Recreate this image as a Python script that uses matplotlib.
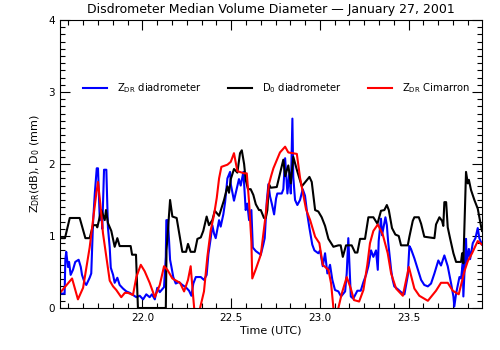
import matplotlib.pyplot as plt
from matplotlib.ticker import MultipleLocator, FormatStrFormatter

# time in hours UTC, values in dB / mm
t_zdr_dis = [21.540, 21.562, 21.566, 21.571, 21.581, 21.587, 21.596, 21.609, 21.622, 21.641,
             21.653, 21.660, 21.675, 21.684, 21.703, 21.712, 21.722, 21.732, 21.743, 21.750,
             21.760, 21.769, 21.774, 21.784, 21.797, 21.802, 21.806, 21.816, 21.822, 21.835,
             21.844, 21.859, 21.872, 21.891, 21.910, 21.929, 21.947, 21.966, 21.985, 22.004,
             22.022, 22.041, 22.054, 22.070, 22.084, 22.098, 22.122, 22.132, 22.135, 22.144,
             22.156, 22.163, 22.174, 22.188, 22.206, 22.225, 22.244, 22.263, 22.276, 22.287,
             22.301, 22.329, 22.347, 22.362, 22.372, 22.385, 22.394, 22.404, 22.413, 22.432,
             22.441, 22.456, 22.466, 22.479, 22.494, 22.498, 22.516, 22.532, 22.544, 22.554,
             22.569, 22.582, 22.591, 22.601, 22.614, 22.622, 22.639, 22.667, 22.681, 22.689,
             22.701, 22.710, 22.719, 22.729, 22.742, 22.753, 22.760, 22.785, 22.794, 22.804,
             22.817, 22.828, 22.836, 22.845, 22.850, 22.860, 22.873, 22.888, 22.903, 22.916,
             22.929, 22.941, 22.957, 22.969, 22.991, 23.001, 23.016, 23.029, 23.042, 23.057,
             23.070, 23.085, 23.104, 23.119, 23.142, 23.151, 23.160, 23.166, 23.174, 23.188,
             23.211, 23.230, 23.245, 23.260, 23.273, 23.288, 23.301, 23.316, 23.326, 23.331,
             23.344, 23.350, 23.369, 23.377, 23.384, 23.391, 23.401, 23.410, 23.419, 23.439,
             23.457, 23.476, 23.495, 23.504, 23.513, 23.532, 23.551, 23.570, 23.588, 23.608,
             23.626, 23.645, 23.667, 23.682, 23.701, 23.720, 23.739, 23.752, 23.757, 23.767,
             23.786, 23.795, 23.805, 23.808, 23.823, 23.827, 23.839, 23.846, 23.861, 23.876,
             23.889, 23.898, 23.913]
zdr_dis = [0.20, 0.20, 0.67, 0.78, 0.57, 0.64, 0.46, 0.53, 0.64, 0.67,
           0.57, 0.46, 0.35, 0.32, 0.42, 0.48, 1.18, 1.59, 1.94, 1.94,
           1.22, 1.36, 1.10, 1.92, 1.92, 1.50, 1.12, 0.84, 0.56, 0.46,
           0.35, 0.42, 0.32, 0.27, 0.23, 0.21, 0.18, 0.15, 0.17, 0.12,
           0.19, 0.15, 0.19, 0.12, 0.28, 0.22, 0.29, 0.71, 1.22, 1.22,
           0.67, 0.58, 0.43, 0.34, 0.36, 0.32, 0.29, 0.24, 0.17, 0.34,
           0.43, 0.43, 0.39, 0.46, 0.75, 0.97, 1.15, 1.03, 0.97, 1.22,
           1.13, 1.30, 1.47, 1.80, 1.89, 1.72, 1.49, 1.66, 1.79, 1.70,
           1.89, 1.36, 1.45, 1.22, 1.36, 0.84, 0.79, 0.74, 0.88, 0.97,
           1.49, 1.72, 1.55, 1.45, 1.30, 1.52, 1.59, 1.59, 1.65, 2.08,
           1.59, 1.88, 1.59, 2.63, 1.82, 1.50, 1.43, 1.50, 1.65, 1.56,
           1.30, 1.11, 0.88, 0.80, 0.76, 0.80, 0.58, 0.76, 0.48, 0.60,
           0.39, 0.25, 0.23, 0.16, 0.23, 0.48, 0.97, 0.62, 0.16, 0.13,
           0.24, 0.24, 0.36, 0.46, 0.58, 0.80, 0.71, 0.80, 0.53, 0.93,
           1.24, 1.01, 1.26, 1.15, 0.93, 0.77, 0.53, 0.39, 0.30, 0.26,
           0.22, 0.19, 0.45, 0.86, 0.82, 0.69, 0.54, 0.39, 0.32, 0.30,
           0.34, 0.48, 0.66, 0.59, 0.73, 0.58, 0.34, 0.16, 0.02, 0.20,
           0.43, 0.41, 0.63, 0.16, 0.96, 0.64, 0.82, 0.68, 0.90, 0.97,
           1.11, 0.97, 0.88]

t_d0 = [21.540, 21.564, 21.591, 21.647, 21.679, 21.703, 21.722, 21.741, 21.746, 21.769,
        21.788, 21.795, 21.806, 21.825, 21.844, 21.859, 21.872, 21.934, 21.942, 21.964,
        21.975, 22.132, 22.136, 22.156, 22.169, 22.193, 22.225, 22.246, 22.257, 22.272,
        22.295, 22.310, 22.329, 22.343, 22.362, 22.375, 22.394, 22.408, 22.432, 22.460,
        22.479, 22.488, 22.498, 22.516, 22.535, 22.550, 22.560, 22.573, 22.582, 22.595,
        22.610, 22.625, 22.639, 22.657, 22.667, 22.685, 22.695, 22.704, 22.713, 22.723,
        22.757, 22.794, 22.804, 22.822, 22.836, 22.850, 22.870, 22.898, 22.941, 22.954,
        22.973, 22.991, 23.010, 23.029, 23.048, 23.076, 23.104, 23.117, 23.129, 23.147,
        23.179, 23.198, 23.211, 23.226, 23.254, 23.273, 23.301, 23.324, 23.344, 23.363,
        23.377, 23.388, 23.406, 23.425, 23.444, 23.457, 23.495, 23.504, 23.523, 23.532,
        23.557, 23.570, 23.588, 23.645, 23.654, 23.673, 23.688, 23.695, 23.701, 23.711,
        23.720, 23.733, 23.752, 23.767, 23.795, 23.801, 23.808, 23.823, 23.833, 23.839,
        23.851, 23.870, 23.889, 23.908, 23.913]
d0 = [0.97, 0.97, 1.25, 1.25, 0.97, 0.97, 1.15, 1.15, 1.12, 1.36,
      1.22, 1.36, 1.18, 1.07, 0.85, 0.97, 0.86, 0.86, 0.74, 0.74,
      0.00, 0.00, 0.80, 1.50, 1.27, 1.25, 0.78, 0.78, 0.89, 0.78,
      0.78, 0.96, 0.98, 1.07, 1.27, 1.15, 1.22, 1.35, 1.28, 1.50,
      1.69, 1.60, 1.79, 1.93, 1.88, 2.15, 2.19, 2.00, 1.78, 1.65,
      1.65, 1.57, 1.44, 1.36, 1.36, 1.25, 1.25, 1.36, 1.72, 1.67,
      1.68, 2.06, 1.83, 1.98, 1.73, 2.10, 1.92, 1.69, 1.82, 1.75,
      1.36, 1.34, 1.26, 1.14, 0.96, 0.85, 0.87, 0.87, 0.71, 0.87,
      0.87, 0.77, 0.77, 0.96, 0.96, 1.26, 1.26, 1.17, 1.35, 1.36,
      1.43, 1.36, 1.11, 1.02, 1.00, 0.87, 0.87, 0.99, 1.21, 1.26,
      1.26, 1.17, 0.99, 0.97, 1.16, 1.26, 1.21, 1.14, 1.47, 1.47,
      1.12, 0.97, 0.76, 0.64, 0.64, 0.76, 0.62, 1.89, 1.73, 1.78,
      1.64, 1.50, 1.38, 1.13, 1.07]

t_zdr_cim = [21.536, 21.604, 21.637, 21.666, 21.703, 21.722, 21.741, 21.750, 21.763, 21.778,
             21.797, 21.816, 21.835, 21.853, 21.881, 21.901, 21.919, 21.947, 21.966, 21.991,
             22.013, 22.041, 22.070, 22.098, 22.122, 22.141, 22.169, 22.197, 22.212, 22.235,
             22.257, 22.272, 22.285, 22.297, 22.308, 22.325, 22.347, 22.366, 22.385, 22.404,
             22.419, 22.432, 22.445, 22.479, 22.498, 22.516, 22.535, 22.573, 22.588, 22.601,
             22.614, 22.619, 22.639, 22.667, 22.691, 22.713, 22.726, 22.738, 22.775, 22.804,
             22.822, 22.870, 22.888, 22.922, 22.945, 22.973, 22.997, 23.016, 23.048, 23.063,
             23.076, 23.088, 23.104, 23.123, 23.151, 23.174, 23.192, 23.221, 23.245, 23.267,
             23.282, 23.301, 23.326, 23.354, 23.382, 23.401, 23.429, 23.467, 23.501, 23.532,
             23.560, 23.608, 23.654, 23.682, 23.720, 23.748, 23.782, 23.814, 23.833, 23.857,
             23.889, 23.913]
zdr_cim = [0.21, 0.41, 0.12, 0.28, 0.84, 1.22, 1.60, 1.75, 1.45, 1.04,
           0.71, 0.38, 0.30, 0.25, 0.15, 0.21, 0.21, 0.18, 0.43, 0.60,
           0.51, 0.35, 0.15, 0.32, 0.58, 0.53, 0.41, 0.37, 0.35, 0.23,
           0.39, 0.58, 0.19, -0.15, -0.30, 0.00, 0.23, 0.71, 1.08, 1.30,
           1.53, 1.80, 1.96, 1.99, 2.03, 2.15, 1.90, 1.87, 1.87, 1.47,
           0.92, 0.41, 0.54, 0.74, 1.22, 1.72, 1.84, 1.94, 2.16, 2.24,
           2.16, 2.14, 1.81, 1.37, 1.22, 0.99, 0.90, 0.60, 0.53, 0.34,
           0.00, -0.30, 0.00, 0.20, 0.43, 0.27, 0.11, 0.09, 0.25, 0.60,
           0.90, 1.07, 1.16, 1.02, 0.76, 0.48, 0.27, 0.17, 0.57, 0.27,
           0.17, 0.10, 0.24, 0.35, 0.35, 0.24, 0.19, 0.51, 0.65, 0.76,
           0.93, 0.88]

fig = plt.figure(figsize=(5, 3.5), dpi=100)
ax = fig.add_axes([0.12, 0.12, 0.844, 0.823])

ax.plot(t_zdr_dis, zdr_dis, color='#0000ff', lw=1.5, label=r'Z$_{\mathregular{DR}}$ diadrometer')
ax.plot(t_d0, d0, color='black', lw=1.5, label=r'D$_{\mathregular{0}}$ diadrometer')
ax.plot(t_zdr_cim, zdr_cim, color='#ff0000', lw=1.5, label=r'Z$_{\mathregular{DR}}$ Cimarron')

ax.set_xlim(21.536, 23.913)
ax.set_ylim(0, 4)
ax.xaxis.set_major_locator(MultipleLocator(0.5))
ax.xaxis.set_minor_locator(MultipleLocator(0.5 / 6))
ax.xaxis.set_major_formatter(FormatStrFormatter('%.1f'))
ax.yaxis.set_major_locator(MultipleLocator(1))
ax.yaxis.set_minor_locator(MultipleLocator(0.1))
ax.tick_params(which='both', direction='in', top=True, right=True, labelsize=7.5, width=0.8)
ax.tick_params(which='major', length=7)
ax.tick_params(which='minor', length=3.5)
for s in ax.spines.values():
    s.set_linewidth(0.8)

ax.set_xlabel('Time (UTC)', fontsize=8, labelpad=2)
ax.set_ylabel(r'Z$_{\mathregular{DR}}$(dB), D$_{\mathregular{0}}$ (mm)', fontsize=8, labelpad=5)
ax.set_title('Disdrometer Median Volume Diameter \u2014 January 27, 2001', fontsize=9, pad=5)

ax.legend(loc='center', bbox_to_anchor=(0.513, 0.764), ncol=3, frameon=False, fontsize=7.2,
          handlelength=2.4, handletextpad=1.0, columnspacing=2.6)

fig.savefig('out.png', dpi=100)
